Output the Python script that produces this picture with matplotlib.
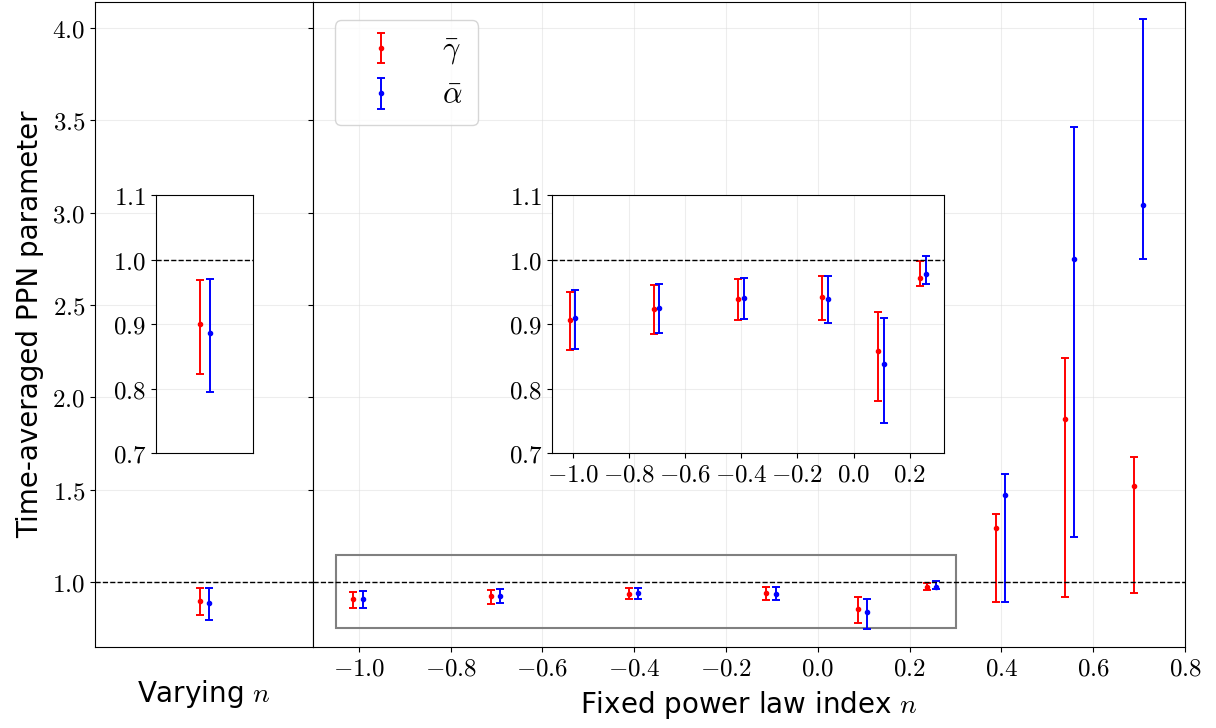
import numpy as np
import matplotlib
matplotlib.use("Agg")
import matplotlib.pyplot as plt
from matplotlib.patches import Rectangle
from matplotlib.ticker import FuncFormatter

plt.rcParams['mathtext.fontset'] = 'cm'
plt.rcParams['font.family'] = ['DejaVu Sans']

# fixed power law index n
n_fixed = [-1.0, -0.7, -0.4, -0.1, 0.1, 0.25, 0.4, 0.55, 0.7]
gamma_mid = [0.907, 0.924, 0.939, 0.942, 0.858, 0.972, 1.292, 1.885, 1.520]
gamma_hi = [0.950, 0.960, 0.970, 0.975, 0.919, 0.998, 1.369, 2.212, 1.677]
gamma_lo = [0.860, 0.885, 0.907, 0.906, 0.781, 0.959, 0.893, 0.922, 0.941]
alpha_mid = [0.909, 0.925, 0.940, 0.939, 0.838, 0.977, 1.474, 2.751, 3.043]
alpha_hi = [0.953, 0.962, 0.971, 0.974, 0.910, 1.006, 1.586, 3.463, 4.049]
alpha_lo = [0.862, 0.886, 0.908, 0.902, 0.746, 0.962, 0.893, 1.246, 2.751]

# varying n
var_gamma = [0.900, 0.822, 0.968]   # mid, low, high
var_alpha = [0.886, 0.795, 0.970]

y_ticks = [1.0, 1.5, 2.0, 2.5, 3.0, 3.5, 4.0]
x_ticks = [-1.0, -0.8, -0.6, -0.4, -0.2, 0.0, 0.2, 0.4, 0.6, 0.8]
inset_xticks = [-1.0, -0.8, -0.6, -0.4, -0.2, 0.0, 0.2]
inset_yticks = [0.7, 0.8, 0.9, 1.0, 1.1]

off_g, off_a = -0.012, 0.008
mfmt = FuncFormatter(lambda v, p: f"${v:.1f}$")
ekw = dict(fmt='.', capsize=3, elinewidth=1.4, capthick=1.4, markersize=6)
TS = 18
LS = 20


def err(mid, lo, hi):
    mid, lo, hi = np.array(mid), np.array(lo), np.array(hi)
    return [mid - lo, hi - mid]


def plot_fixed(ax):
    x = np.array(n_fixed)
    ax.errorbar(x + off_g, gamma_mid, yerr=err(gamma_mid, gamma_lo, gamma_hi),
                color='red', label=r'$\bar{\gamma}$', **ekw)
    ax.errorbar(x + off_a, alpha_mid, yerr=err(alpha_mid, alpha_lo, alpha_hi),
                color='blue', label=r'$\bar{\alpha}$', **ekw)
    ax.axhline(1.0, color='k', ls='--', lw=1)


def plot_var(ax):
    ax.errorbar([-0.008], [var_gamma[0]], yerr=[[var_gamma[0] - var_gamma[1]], [var_gamma[2] - var_gamma[0]]],
                color='red', **ekw)
    ax.errorbar([0.01], [var_alpha[0]], yerr=[[var_alpha[0] - var_alpha[1]], [var_alpha[2] - var_alpha[0]]],
                color='blue', **ekw)
    ax.axhline(1.0, color='k', ls='--', lw=1)


fig = plt.figure(figsize=(12.16, 7.28), dpi=100)
ax0 = fig.add_axes([0.0781, 0.1113, 0.1793, 0.886])
ax1 = fig.add_axes([0.2574, 0.1113, 0.7171, 0.886])

for ax in (ax0, ax1):
    ax.set_ylim(0.65, 4.14)
    ax.set_yticks(y_ticks)
    ax.yaxis.set_major_formatter(mfmt)
    ax.grid(True, color='#dddddd', alpha=0.5, lw=0.8)
    ax.set_axisbelow(True)
    ax.tick_params(labelsize=TS)

plot_var(ax0)
ax0.set_xlim(-0.2, 0.2)
ax0.set_xticks([])
ax0.set_ylabel('Time-averaged PPN parameter', fontsize=LS, labelpad=6)
ax0.set_xlabel('Varying $n$', fontsize=LS, labelpad=22)

plot_fixed(ax1)
ax1.set_xlim(-1.1, 0.8)
ax1.set_xticks(x_ticks)
ax1.xaxis.set_major_formatter(mfmt)
ax1.tick_params(axis='y', labelleft=False)
ax1.set_xlabel('Fixed power law index $n$', fontsize=LS, labelpad=6)
ax1.add_patch(Rectangle((-1.05, 0.75), 1.35, 0.4, fill=False, edgecolor='gray', lw=1.5))
ax1.legend(loc='upper left', fontsize=22, handletextpad=1.0, borderpad=0.5,
           labelspacing=0.45, bbox_to_anchor=(0.008, 0.995))

# inset for varying n
ins0 = fig.add_axes([0.1283, 0.3777, 0.0798, 0.3544])
plot_var(ins0)
ins0.set_xlim(-0.09, 0.09)
ins0.set_ylim(0.7, 1.1)
ins0.set_xticks([])
ins0.set_yticks(inset_yticks)
ins0.yaxis.set_major_formatter(mfmt)
ins0.tick_params(labelsize=TS)
ins0.grid(True, color='#dddddd', alpha=0.5, lw=0.8)

# inset for fixed n
ins1 = fig.add_axes([0.4539, 0.3777, 0.3224, 0.3544])
plot_fixed(ins1)
ins1.set_xlim(-1.075, 0.3225)
ins1.set_ylim(0.7, 1.1)
ins1.set_xticks(inset_xticks)
ins1.set_yticks(inset_yticks)
ins1.xaxis.set_major_formatter(mfmt)
ins1.yaxis.set_major_formatter(mfmt)
ins1.tick_params(labelsize=TS)
ins1.grid(True, color='#dddddd', alpha=0.5, lw=0.8)

fig.savefig('out.png', dpi=100)
